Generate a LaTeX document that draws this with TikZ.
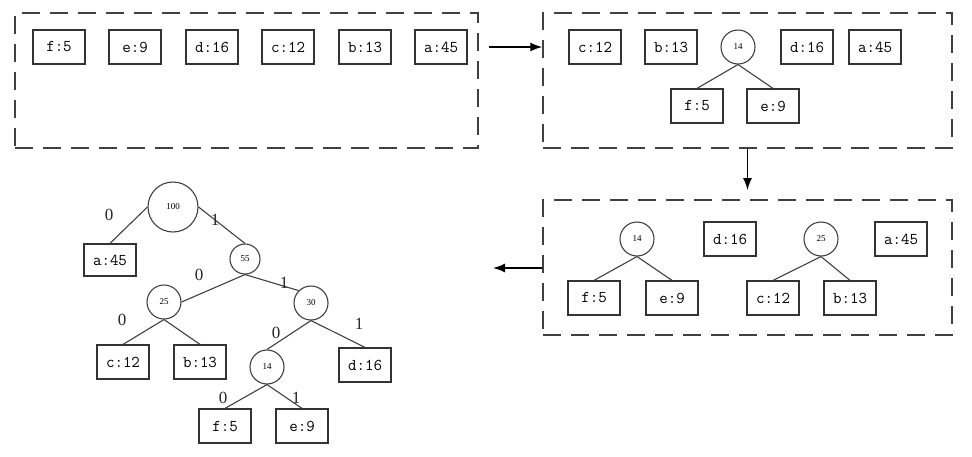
\documentclass[tikz,border=0pt]{standalone}
\usepackage{fontspec}
\setmainfont{Liberation Serif}
\usetikzlibrary{arrows.meta}
\begin{document}
\begin{tikzpicture}[x=1pt,y=1pt,
  leaf/.style={draw=black!80, line width=1.2pt, minimum width=52pt, minimum height=34pt, inner sep=0pt, font=\ttfamily\fontsize{16.5}{16.5}\selectfont},
  sum/.style={draw=black!75, line width=1.1pt, circle, inner sep=0pt, font=\fontsize{9}{9}\selectfont},
  group/.style={draw=black!75, line width=1.5pt, dash pattern=on 18pt off 10pt, inner sep=0pt},
  edge/.style={draw=black!75, line width=1.1pt},
  flow/.style={draw=black, line width=1.4pt, -{Latex[length=12pt,width=9pt]}},
  bit/.style={font=\fontsize{17}{17}\selectfont, inner sep=0pt, text=black!85}
]
\useasboundingbox (0,0) rectangle (972,-456);

% group frames
\node[group, minimum width=463pt, minimum height=135pt] (g1) at (246.5,-80.5) {};
\node[group, minimum width=409pt, minimum height=135pt] (g2) at (747.5,-80.5) {};
\node[group, minimum width=409pt, minimum height=135pt] (g3) at (747.5,-267.5) {};

% step 1
\node[leaf] (af) at (59,-47) {f:5};
\node[leaf] (ae) at (135,-47) {e:9};
\node[leaf] (ad) at (212,-47) {d:16};
\node[leaf] (ac) at (288,-47) {c:12};
\node[leaf] (ab) at (365,-47) {b:13};
\node[leaf] (aa) at (441,-47) {a:45};

% step 2
\node[leaf] (bc) at (595,-47) {c:12};
\node[leaf] (bb) at (671,-47) {b:13};
\node[sum, minimum size=34pt] (b14) at (738,-47) {14};
\node[leaf] (bd) at (807,-47) {d:16};
\node[leaf] (ba) at (875,-47) {a:45};
\node[leaf] (bf) at (697,-106) {f:5};
\node[leaf] (be) at (773,-106) {e:9};
\draw[edge] (b14.south) -- (bf.north);
\draw[edge] (b14.south) -- (be.north);

% step 3
\node[sum, minimum size=34pt] (c14) at (637,-239) {14};
\node[leaf] (cd) at (730,-239) {d:16};
\node[sum, minimum size=34pt] (c25) at (821,-239) {25};
\node[leaf] (ca) at (901,-239) {a:45};
\node[leaf] (cf) at (594,-298) {f:5};
\node[leaf] (ce) at (672,-298) {e:9};
\node[leaf] (cc) at (773,-298) {c:12};
\node[leaf] (cb) at (850,-298) {b:13};
\draw[edge] (c14.south) -- (cf.north);
\draw[edge] (c14.south) -- (ce.north);
\draw[edge] (c25.south) -- (cc.north);
\draw[edge] (c25.south) -- (cb.north);

% flow arrows
\coordinate (f1s) at (489,-47);
\draw[flow] (f1s) -- (g2.west |- f1s);
\coordinate (f2e) at (747.5,-190);
\draw[flow] (g2.south) -- (f2e);
\coordinate (f3e) at (493,-268);
\draw[flow] (g3.west |- f3e) -- (f3e);

% final tree
\node[sum, minimum size=50pt] (t100) at (173,-207) {100};
\node[leaf, minimum height=32pt] (ta) at (110,-260) {a:45};
\node[sum, minimum size=30pt] (t55) at (245,-259) {55};
\node[sum, minimum size=34pt] (t25) at (164,-302) {25};
\node[sum, minimum size=34pt] (t30) at (311,-303) {30};
\node[leaf] (tc) at (123,-362) {c:12};
\node[leaf] (tb) at (200,-362) {b:13};
\node[sum, minimum size=34pt] (t14) at (267,-367) {14};
\node[leaf] (td) at (365,-365) {d:16};
\node[leaf] (tf) at (225,-426) {f:5};
\node[leaf] (te) at (302,-426) {e:9};

\draw[edge] (t100.west) -- (ta.north);
\draw[edge] (t100.east) -- (t55.north);
\draw[edge] (t55.south) -- (t25.east);
\draw[edge] (t55.south) -- (t30.north west);
\draw[edge] (t25.south) -- (tc.north);
\draw[edge] (t25.south) -- (tb.north);
\draw[edge] (t30.south) -- (t14.north);
\draw[edge] (t30.south) -- (td.north);
\draw[edge] (t14.south) -- (tf.north);
\draw[edge] (t14.south) -- (te.north);

\node[bit] (l1) at (109,-215) {0};
\node[bit] (l2) at (215,-220) {1};
\node[bit] (l3) at (199,-275) {0};
\node[bit] (l4) at (284,-283) {1};
\node[bit] (l5) at (122,-320) {0};
\node[bit] (l6) at (276,-333) {0};
\node[bit] (l7) at (359,-324) {1};
\node[bit] (l8) at (223,-398) {0};
\node[bit] (l9) at (296,-398) {1};
\end{tikzpicture}
\end{document}
